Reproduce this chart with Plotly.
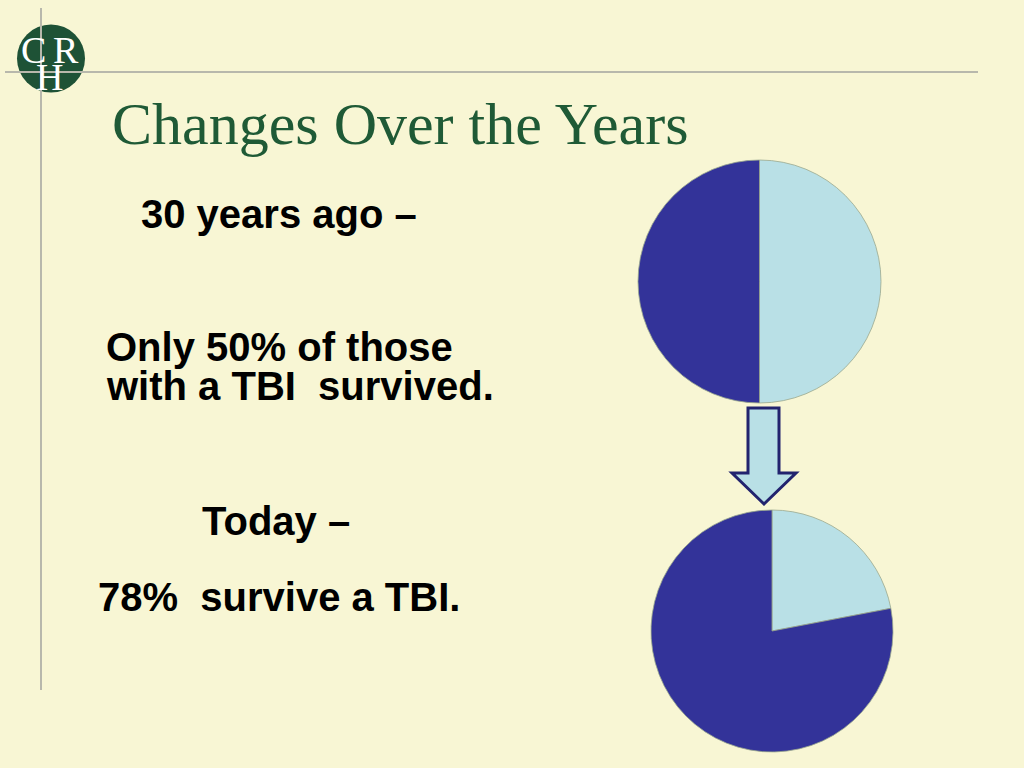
import plotly.graph_objects as go

# ---- data ----
slice_labels = ["Did not survive", "Survived"]
values_30_years_ago = [50, 50]
values_today = [22, 78]
slice_colors = ["#B9E0E6", "#333399"]

title_text = "Changes Over the Years"
text_lines = [
    ("30 years ago \u2013", 140, 213.5),
    ("Only 50% of those", 105, 347),
    ("with a TBI\u00a0 survived.", 105, 386),
    ("Today \u2013", 201, 520.5),
    ("78%\u00a0 survive a TBI.", 97, 597),
]

W, H = 1024, 768
BG = "#F8F6D4"


def dom(x0, x1, y0, y1):
    return dict(x=[x0 / W, x1 / W], y=[1 - y1 / H, 1 - y0 / H])


fig = go.Figure()

fig.add_trace(go.Pie(
    labels=slice_labels, values=values_30_years_ago,
    marker=dict(colors=slice_colors, line=dict(color="#9AA88E", width=0.8)),
    sort=False, direction="clockwise", rotation=0,
    textinfo="none", hoverinfo="label+percent", showlegend=False,
    domain=dom(638, 881, 160, 403),
))
fig.add_trace(go.Pie(
    labels=slice_labels, values=values_today,
    marker=dict(colors=slice_colors, line=dict(color="#9AA88E", width=0.8)),
    sort=False, direction="clockwise", rotation=0,
    textinfo="none", hoverinfo="label+percent", showlegend=False,
    domain=dom(651, 893, 510, 752),
))

shapes = [
    # logo circle
    dict(type="circle", xref="x", yref="y", x0=17, x1=85, y0=24.5, y1=92.5,
         fillcolor="#1E5236", line=dict(width=0), layer="below"),
    # guide lines
    dict(type="line", xref="x", yref="y", x0=5, x1=978, y0=72, y1=72,
         line=dict(color="#B8B8AC", width=2), layer="below"),
    dict(type="line", xref="x", yref="y", x0=41, x1=41, y0=8, y1=690,
         line=dict(color="#B8B8AC", width=2), layer="below"),
    # arrow
    dict(type="path", xref="x", yref="y",
         path="M 748 408 L 779 408 L 779 473 L 796 473 L 764 504 L 732 473 L 748 473 Z",
         fillcolor="#B9E0E6", line=dict(color="#22236E", width=3)),
]

annotations = [
    dict(text="C", x=33, y=50, xref="x", yref="y", showarrow=False,
         font=dict(family="Liberation Serif", size=38, color="white")),
    dict(text="R", x=66, y=50, xref="x", yref="y", showarrow=False,
         font=dict(family="Liberation Serif", size=38, color="white")),
    dict(text="H", x=49, y=77, xref="x", yref="y", showarrow=False,
         font=dict(family="Liberation Serif", size=38, color="white")),
    dict(text=title_text, x=111, y=124, xref="x", yref="y", showarrow=False,
         xanchor="left", yanchor="middle", borderpad=0,
         font=dict(family="Liberation Serif", size=60, color="#1F5A36")),
]
for t, x, y in text_lines:
    annotations.append(dict(text="<b>%s</b>" % t, x=x, y=y, xref="x", yref="y",
                            showarrow=False, xanchor="left", yanchor="middle",
                            borderpad=0,
                            font=dict(family="Liberation Sans", size=40, color="black")))

fig.update_layout(
    width=W, height=H,
    margin=dict(l=0, r=0, t=0, b=0),
    paper_bgcolor=BG, plot_bgcolor=BG,
    xaxis=dict(range=[0, W], visible=False, fixedrange=True),
    yaxis=dict(range=[H, 0], visible=False, fixedrange=True),
    shapes=shapes, annotations=annotations,
)

fig.write_html(
    "out.html",
    config={"displayModeBar": False},
    post_script="document.body.style.margin='0';document.body.style.overflow='hidden';",
)
